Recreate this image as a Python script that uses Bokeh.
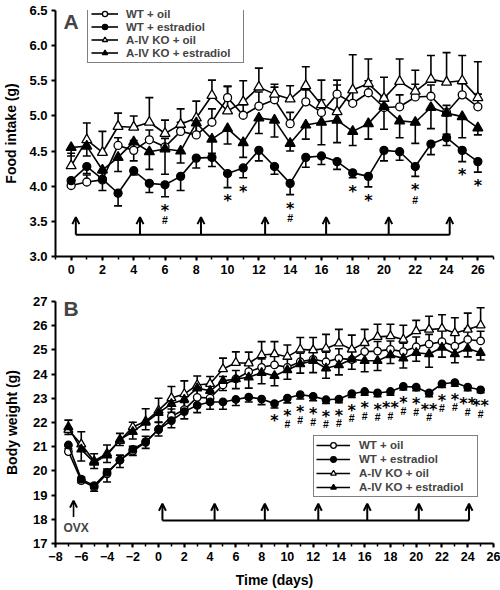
from bokeh.plotting import figure
from bokeh.layouts import column
from bokeh.models import (ColumnDataSource, Whisker, TeeHead, Arrow, OpenHead, Legend,
                          LegendItem, SingleIntervalTicker, PrintfTickFormatter, Label)
from bokeh.core.properties import value
from bokeh.embed import file_html
from bokeh.resources import INLINE

FONT = "Liberation Sans"

# ---------------- Panel A: food intake (g) ----------------
days_a = list(range(0, 27))
wt_oil_a = [4.01, 4.06, 4.09, 4.58, 4.51, 4.66, 4.56, 4.78, 4.73, 4.91, 5.26, 5.01, 5.14, 5.23,
            4.89, 5.20, 5.05, 5.31, 5.18, 5.33, 5.12, 5.13, 5.27, 5.28, 5.05, 5.30, 5.13]
wt_oil_err_a = [0.08, 0.10, 0.10, 0.11, 0.14, 0.14, 0.12, 0.13, 0.15, 0.19, 0.16, 0.15, 0.20, 0.18,
                0.16, 0.17, 0.18, 0.20, 0.18, 0.17, 0.15, 0.17, 0.18, 0.16, 0.10, 0.16, 0.18]
wt_e2_a = [4.08, 4.28, 4.10, 3.90, 4.22, 4.04, 4.02, 4.14, 4.40, 4.41, 4.18, 4.26, 4.51, 4.28,
           4.04, 4.41, 4.43, 4.35, 4.19, 4.14, 4.51, 4.49, 4.28, 4.60, 4.69, 4.51, 4.35]
wt_e2_err_a = [0.08, 0.10, 0.16, 0.18, 0.06, 0.13, 0.17, 0.20, 0.14, 0.13, 0.20, 0.14, 0.15, 0.11,
               0.16, 0.14, 0.12, 0.11, 0.07, 0.15, 0.15, 0.12, 0.14, 0.15, 0.11, 0.16, 0.15]
ko_oil_a = [4.29, 4.66, 4.48, 4.85, 4.84, 4.91, 4.75, 4.88, 4.97, 5.29, 5.07, 5.20, 5.41, 5.31,
            5.24, 5.43, 5.16, 5.06, 5.37, 5.46, 5.25, 5.49, 5.35, 5.52, 5.48, 5.50, 5.26]
ko_oil_err_a = [0.18, 0.24, 0.30, 0.19, 0.16, 0.35, 0.19, 0.22, 0.24, 0.22, 0.35, 0.30, 0.27, 0.14,
                0.19, 0.27, 0.35, 0.38, 0.50, 0.35, 0.30, 0.32, 0.30, 0.34, 0.42, 0.36, 0.51]
ko_e2_a = [4.55, 4.57, 4.23, 4.41, 4.63, 4.49, 4.53, 4.50, 4.90, 4.67, 4.82, 4.62, 4.97, 4.94,
           4.61, 4.87, 4.91, 4.94, 4.78, 4.89, 5.13, 4.93, 4.91, 5.12, 5.04, 4.99, 4.83]
ko_e2_err_a = [0.12, 0.14, 0.15, 0.20, 0.27, 0.25, 0.36, 0.17, 0.15, 0.20, 0.22, 0.21, 0.22, 0.24,
               0.11, 0.20, 0.32, 0.32, 0.20, 0.22, 0.32, 0.24, 0.30, 0.30, 0.30, 0.30, 0.10]
star_days_a = [6, 10, 11, 14, 18, 19, 22, 25, 26]
star_text_a = ["*", "*", "*", "*", "*", "*", "*", "*", "*"]
hash_days_a = [6, 14, 22]
inject_a = [0.3, 4.4, 8.3, 12.4, 16.3, 20.3, 24.2]

# ---------------- Panel B: body weight (g) ----------------
days_b = list(range(-7, 26))
wt_oil_b = [20.80, 19.60, 19.33, 19.88, 20.45, 20.82, 21.18, 21.72, 22.26, 22.53, 23.04, 23.01,
            23.55, 23.80, 24.10, 24.28, 24.38, 24.28, 24.51, 24.61, 24.51, 24.65, 24.60, 24.93,
            24.95, 25.02, 24.93, 25.13, 25.24, 25.34, 25.16, 25.43, 25.37]
wt_oil_err_b = [0.25, 0.15, 0.15, 0.20, 0.20, 0.20, 0.25, 0.30, 0.30, 0.30, 0.30, 0.30, 0.35,
                0.35, 0.35, 0.35, 0.40, 0.35, 0.35, 0.40, 0.40, 0.40, 0.40, 0.35, 0.40, 0.35,
                0.35, 0.40, 0.40, 0.45, 0.45, 0.45, 0.40]
wt_e2_b = [21.07, 19.66, 19.39, 19.94, 20.44, 20.89, 21.21, 21.71, 22.08, 22.45, 22.71, 22.85,
           22.85, 22.95, 23.05, 22.97, 22.78, 23.01, 23.15, 23.08, 22.94, 22.97, 23.19, 23.28,
           23.22, 23.28, 23.49, 23.46, 23.22, 23.60, 23.65, 23.46, 23.35]
wt_e2_err_b = [0.15, 0.15, 0.23, 0.40, 0.30, 0.25, 0.28, 0.27, 0.30, 0.30, 0.30, 0.30, 0.30,
               0.25, 0.20, 0.23, 0.18, 0.20, 0.18, 0.18, 0.15, 0.15, 0.15, 0.15, 0.15, 0.15,
               0.15, 0.15, 0.15, 0.15, 0.15, 0.15, 0.12]
ko_oil_b = [21.70, 21.10, 20.41, 20.72, 21.25, 21.81, 22.05, 22.50, 23.01, 23.18, 23.55, 23.60,
            24.21, 24.47, 24.45, 24.79, 24.83, 24.72, 25.02, 24.99, 25.06, 25.27, 25.02, 25.29,
            25.54, 25.57, 25.43, 25.78, 25.84, 25.88, 25.70, 25.84, 26.02]
ko_oil_err_b = [0.40, 0.52, 0.30, 0.35, 0.30, 0.20, 0.52, 0.50, 0.48, 0.54, 0.37, 0.30, 0.45,
                0.45, 0.46, 0.55, 0.51, 0.48, 0.49, 0.52, 0.58, 0.58, 0.59, 0.56, 0.52, 0.49,
                0.59, 0.44, 0.55, 0.57, 0.63, 0.68, 0.72]
ko_e2_b = [21.81, 20.89, 20.35, 20.65, 21.30, 21.62, 22.00, 22.40, 22.77, 22.95, 23.42, 23.31,
           23.72, 23.80, 23.87, 24.06, 23.93, 24.17, 24.42, 24.55, 24.24, 24.38, 24.61, 24.55,
           24.55, 24.79, 24.65, 24.88, 24.83, 25.10, 24.83, 25.06, 24.88]
ko_e2_err_b = [0.30, 0.48, 0.25, 0.30, 0.25, 0.30, 0.30, 0.40, 0.35, 0.35, 0.35, 0.35, 0.40,
               0.40, 0.45, 0.46, 0.41, 0.38, 0.38, 0.49, 0.41, 0.41, 0.41, 0.45, 0.40, 0.35,
               0.40, 0.35, 0.55, 0.40, 0.36, 0.35, 0.30]
star_days_b = list(range(9, 26))
star_text_b = ["*", "*", "*", "*", "*", "*", "*", "*", "*", "**", "*", "*", "**", "*", "*", "**", "**"]
hash_days_b = list(range(10, 26))
inject_b = [0.3, 4.35, 8.25, 12.4, 16.2, 20.2, 24.1]
ovx_day = -6.6

labels = ["WT + oil", "WT + estradiol", "A-IV KO + oil", "A-IV KO + estradiol"]
markers = ["circle", "circle", "triangle", "triangle"]
fills = ["white", "black", "white", "black"]
err_dir = [1, -1, 1, -1]


def style(p):
    p.xgrid.visible = False
    p.ygrid.visible = False
    p.outline_line_color = None
    p.background_fill_color = "white"
    p.border_fill_color = "white"
    for ax in (p.xaxis[0], p.yaxis[0]):
        ax.axis_line_width = 2
        ax.axis_line_color = "black"
        ax.major_tick_line_width = 2
        ax.minor_tick_line_width = 1.5
        ax.major_tick_in = 0
        ax.major_tick_out = 4
        ax.minor_tick_in = 0
        ax.minor_tick_out = 3
        ax.major_label_standoff = 4
        ax.major_label_text_font = FONT
        ax.major_label_text_font_style = "bold"
        ax.major_label_text_color = "black"
        ax.axis_label_text_font = FONT
        ax.axis_label_text_font_style = "bold"
        ax.axis_label_text_font_size = "14px"
        ax.axis_label_text_color = "black"
    p.xaxis.major_label_text_font_size = "12.5px"
    p.yaxis.major_label_text_font_size = "13px"


def draw_series(p, days, vals, errs, marker, fill, direction, msize):
    lo = [v if direction > 0 else v - e for v, e in zip(vals, errs)]
    hi = [v + e if direction > 0 else v for v, e in zip(vals, errs)]
    src = ColumnDataSource(dict(x=days, y=vals, lo=lo, hi=hi))
    head = TeeHead(size=8, line_width=1.6, line_color="black")
    w = Whisker(source=src, base="x", upper="hi", lower="lo", dimension="height",
                line_color="black", line_width=1.6,
                upper_head=head if direction > 0 else None,
                lower_head=head if direction < 0 else None, level="underlay")
    p.add_layout(w)
    rl = p.line("x", "y", source=src, line_color="black", line_width=1.6)
    rs = p.scatter("x", "y", source=src, marker=marker, size=msize, fill_color=fill,
                   line_color="black", line_width=1.3)
    return rl, rs


def draw_stats(p, days, vals, errs, star_days, star_text, hash_days, star_off, hash_off):
    bottom = {d: v - e for d, v, e in zip(days, vals, errs)}
    p.text(x=star_days, y=[bottom[d] - star_off for d in star_days], text=star_text,
           text_font=value("DejaVu Sans"), text_font_style="bold", text_font_size="16px",
           text_align="center", text_baseline="middle", text_color="black")
    p.text(x=hash_days, y=[bottom[d] - hash_off for d in hash_days], text=["#"] * len(hash_days),
           text_font=value(FONT), text_font_style="bold", text_font_size="10.5px",
           text_align="center", text_baseline="middle", text_color="black")


def draw_injections(p, xs, y0, y1, lw=2):
    p.segment(x0=[xs[0]], y0=[y0], x1=[xs[-1]], y1=[y0], line_color="black", line_width=lw)
    src = ColumnDataSource(dict(x=xs, y0=[y0] * len(xs), y1=[y1] * len(xs)))
    p.add_layout(Arrow(end=OpenHead(size=7, line_width=2, line_color="black"),
                       x_start="x", y_start="y0", x_end="x", y_end="y1", source=src,
                       line_color="black", line_width=lw))


def make_legend(items, loc, glyph_w, glyph_h, padding, label_w, standoff):
    return Legend(items=items, location=loc, orientation="vertical", glyph_height=glyph_h,
                  glyph_width=glyph_w, spacing=0, padding=padding, margin=0,
                  label_height=12, label_width=label_w, label_standoff=standoff,
                  border_line_color="black", border_line_width=1.5, background_fill_alpha=1.0,
                  label_text_font=FONT, label_text_font_style="bold",
                  label_text_font_size="11.5px", label_text_line_height=1.0)


# ---------------- figure A ----------------
pa = figure(width=500, height=285, x_range=(-1, 27), y_range=(3.0, 6.5),
            output_backend="svg", toolbar_location=None,
            min_border_left=53, min_border_right=7, min_border_top=10, min_border_bottom=29)
style(pa)
pa.xaxis.ticker = SingleIntervalTicker(interval=2, num_minor_ticks=2)
pa.yaxis.ticker = SingleIntervalTicker(interval=0.5, num_minor_ticks=0)
pa.yaxis.formatter = PrintfTickFormatter(format="%.1f")
pa.yaxis.axis_label = "Food intake (g)"
pa.yaxis.axis_label_standoff = 7

data_a = [(wt_oil_a, wt_oil_err_a), (wt_e2_a, wt_e2_err_a), (ko_oil_a, ko_oil_err_a), (ko_e2_a, ko_e2_err_a)]
items_a = []
for (vals, errs), lab, mk, fc, d in zip(data_a, labels, markers, fills, err_dir):
    rl, rs = draw_series(pa, days_a, vals, errs, mk, fc, d, 8 if mk == "circle" else 10)
    items_a.append(LegendItem(label=value(lab), renderers=[rl, rs]))
draw_stats(pa, days_a, wt_e2_a, wt_e2_err_a, star_days_a, star_text_a, hash_days_a, 0.19, 0.33)
draw_injections(pa, inject_a, 3.31, 3.56)
pa.add_layout(make_legend(items_a, (32, 193), 27, 13, 3, 114, 8))
pa.add_layout(Label(x=0, y=6.34, text="A", text_font=FONT, text_font_style="bold",
                    text_font_size="21px", text_align="center", text_baseline="middle"))

# ---------------- figure B ----------------
pb = figure(width=500, height=305, x_range=(-8, 26), y_range=(17, 27),
            output_backend="svg", toolbar_location=None,
            min_border_left=53, min_border_right=5, min_border_top=16, min_border_bottom=45)
style(pb)
pb.xaxis.ticker = SingleIntervalTicker(interval=2, num_minor_ticks=2)
pb.yaxis.ticker = SingleIntervalTicker(interval=1, num_minor_ticks=0)
pb.yaxis.axis_label = "Body weight (g)"
pb.yaxis.axis_label_standoff = 10
pb.xaxis.axis_label = "Time (days)"
pb.xaxis.axis_label_standoff = 8

data_b = [(wt_oil_b, wt_oil_err_b), (wt_e2_b, wt_e2_err_b), (ko_oil_b, ko_oil_err_b), (ko_e2_b, ko_e2_err_b)]
items_b = []
for (vals, errs), lab, mk, fc, d in zip(data_b, labels, markers, fills, err_dir):
    rl, rs = draw_series(pb, days_b, vals, errs, mk, fc, d, 7.5 if mk == "circle" else 9)
    items_b.append(LegendItem(label=value(lab), renderers=[rl, rs]))
draw_stats(pb, days_b, wt_e2_b, wt_e2_err_b, star_days_b, star_text_b, hash_days_b, 0.53, 0.86)
draw_injections(pb, inject_b, 17.95, 18.64)
pb.add_layout(Arrow(end=OpenHead(size=7, line_width=2, line_color="black"),
                    x_start=ovx_day, y_start=18.1, x_end=ovx_day, y_end=18.77,
                    line_color="black", line_width=1.6))
pb.add_layout(Label(x=ovx_day + 0.2, y=17.65, text="OVX", text_font=FONT, text_font_style="bold",
                    text_font_size="12px", text_align="center", text_baseline="middle"))
pb.add_layout(make_legend(items_b, (258, 46), 34, 14, 2, 116, 9))
pb.add_layout(Label(x=-6.8, y=26.7, text="B", text_font=FONT, text_font_style="bold",
                    text_font_size="21px", text_align="center", text_baseline="middle"))

layout = column(pa, pb)
open("out.html", "w").write(file_html(layout, INLINE))
